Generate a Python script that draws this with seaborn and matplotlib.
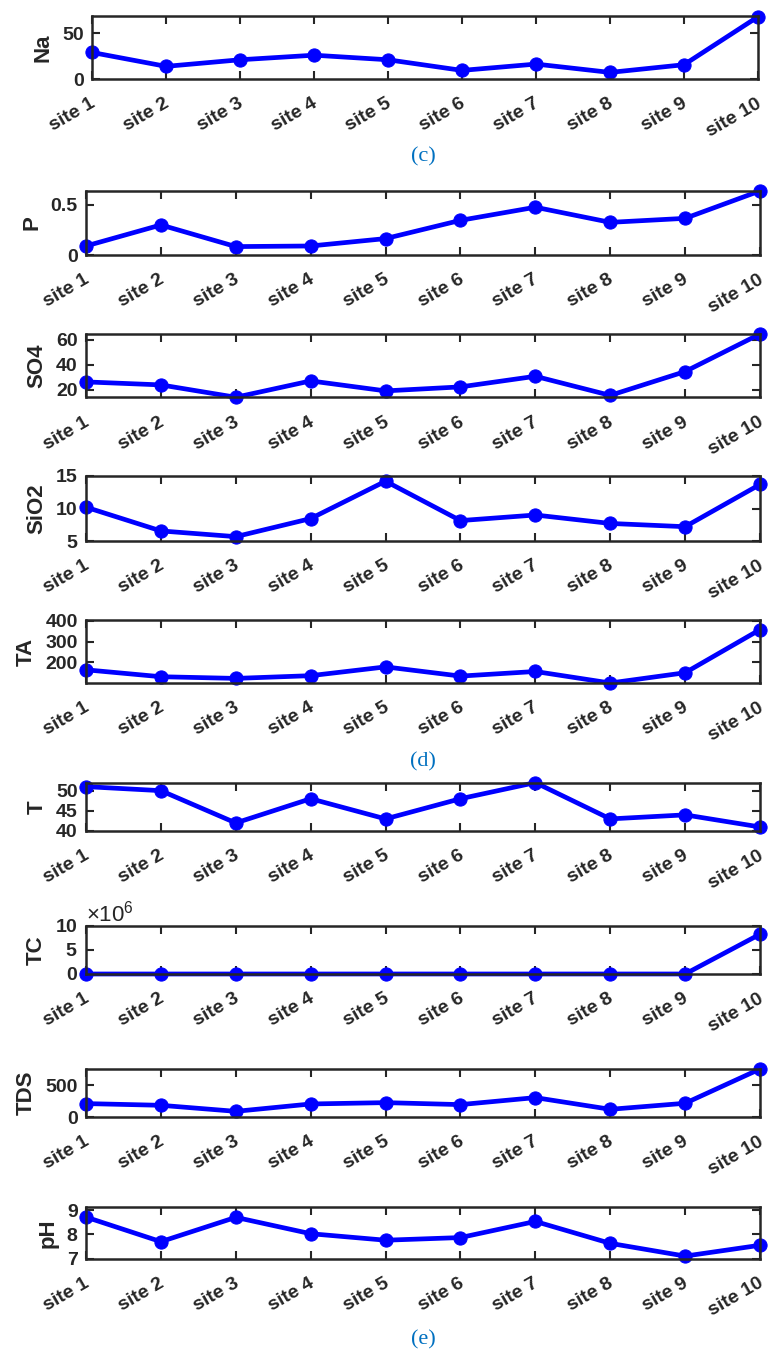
import numpy as np
import pandas as pd
import matplotlib
matplotlib.use("Agg")
from matplotlib import pyplot as plt
from matplotlib import transforms
from matplotlib.ticker import FuncFormatter
import seaborn as sns

sites = ["site 1", "site 2", "site 3", "site 4", "site 5",
         "site 6", "site 7", "site 8", "site 9", "site 10"]

na = [29, 13.8, 21, 26, 21, 9.4, 16.3, 7.2, 15.6, 68]
p = [0.09, 0.30, 0.084, 0.09, 0.164, 0.346, 0.477, 0.326, 0.366, 0.64]
so4 = [26.4, 24, 14.1, 27.2, 19.2, 22.4, 30.9, 15.6, 34.7, 64.8]
sio2 = [10.2, 6.55, 5.67, 8.45, 14.2, 8.14, 9.0, 7.7, 7.2, 13.7]
ta = [165, 132, 124, 137, 179, 135, 157, 102, 151, 357]
temp = [51, 50, 42, 48, 43, 48, 52, 43, 44, 41]
tc = [1500, 2300, 900, 2100, 4300, 2800, 1100, 3900, 2400, 8.2e6]
tds = [211, 184, 89, 205, 226, 195, 305, 121, 216, 755]
ph = [8.72, 7.7, 8.71, 8.03, 7.76, 7.87, 8.54, 7.63, 7.1, 7.55]

# name, values, ylim, yticks, (left, right, top, bottom) in pixels
panels = [
    ("Na", na, (0, 68.8), [0, 50], (92, 758, 16, 79)),
    ("P", p, (0, 0.644), [0, 0.5], (86, 760, 190.5, 255)),
    ("SO4", so4, (13.9, 64.8), [20, 40, 60], (86, 760, 334, 397.5)),
    ("SiO2", sio2, (5, 15), [5, 10, 15], (86, 760, 476, 541)),
    ("TA", ta, (102, 403), [200, 300, 400], (86, 760, 620, 683)),
    ("T", temp, (40, 51.9), [40, 45, 50], (86, 760, 783, 831)),
    ("TC", tc, (0, 1e7), [0, 5e6, 1e7], (86, 760, 925.5, 974)),
    ("TDS", tds, (0, 755), [0, 500], (86, 760, 1069, 1117)),
    ("pH", ph, (7, 9.14), [7, 8, 9], (86, 760, 1207, 1258.5)),
]

captions = [("(c)", 157), ("(d)", 762), ("(e)", 1340)]

sns.set_style("ticks")
plt.rcParams['font.family'] = ['Liberation Sans', 'DejaVu Sans']
plt.rcParams['font.weight'] = 'bold'
plt.rcParams['mathtext.default'] = 'regular'

W, H = 769, 1353
fig = plt.figure(figsize=(W / 100, H / 100), dpi=100)
dark = "#262626"

for name, vals, ylim, yticks, (lp, rp, top, bot) in panels:
    ax = fig.add_axes([lp / W, 1 - bot / H, (rp - lp) / W, (bot - top) / H])
    df = pd.DataFrame({"site": sites, "value": vals})
    sns.lineplot(data=df, x="site", y="value", ax=ax, color="#0000FF", linewidth=3.4,
                 marker="o", markersize=9.5, markeredgecolor="#0000FF", clip_on=False)
    ax.set_xlim(0, len(sites) - 1)
    ax.set_ylim(*ylim)
    ax.set_yticks(yticks)
    ax.set_xlabel("")
    ax.set_ylabel(name, fontsize=16, fontweight="bold", color=dark, labelpad=6)
    ax.set_xticks(range(len(sites)))
    ax.set_xticklabels(sites, rotation=30, ha="right", va="center", rotation_mode="anchor")
    ax.tick_params(axis="both", direction="in", length=6, width=1.5, top=True, right=True,
                   labelsize=14, colors=dark)
    ax.tick_params(axis="x", pad=17)
    ax.tick_params(axis="y", pad=6)
    shift = transforms.ScaledTranslation(2 / 100, 0, fig.dpi_scale_trans)
    for lab in ax.get_xticklabels():
        lab.set_transform(lab.get_transform() + shift)
    for lab in ax.get_xticklabels() + ax.get_yticklabels():
        lab.set_fontweight("bold")
    for s in ax.spines.values():
        s.set_linewidth(1.8)
        s.set_color(dark)
    if name == "TC":
        ax.ticklabel_format(axis="y", style="sci", scilimits=(6, 6), useMathText=True)
        off = ax.yaxis.get_offset_text()
        off.set_fontsize(16)
        off.set_fontweight("normal")
        off.set_color(dark)
    else:
        ax.yaxis.set_major_formatter(FuncFormatter(lambda v, pos: f"{v:g}"))

for txt, ypx in captions:
    fig.text(423 / W, 1 - ypx / H, txt, ha="center", va="center",
             fontsize=16, color="#0070C0", family=["Liberation Serif", "DejaVu Serif"],
             fontweight="normal")

fig.savefig("out.png", dpi=100)
